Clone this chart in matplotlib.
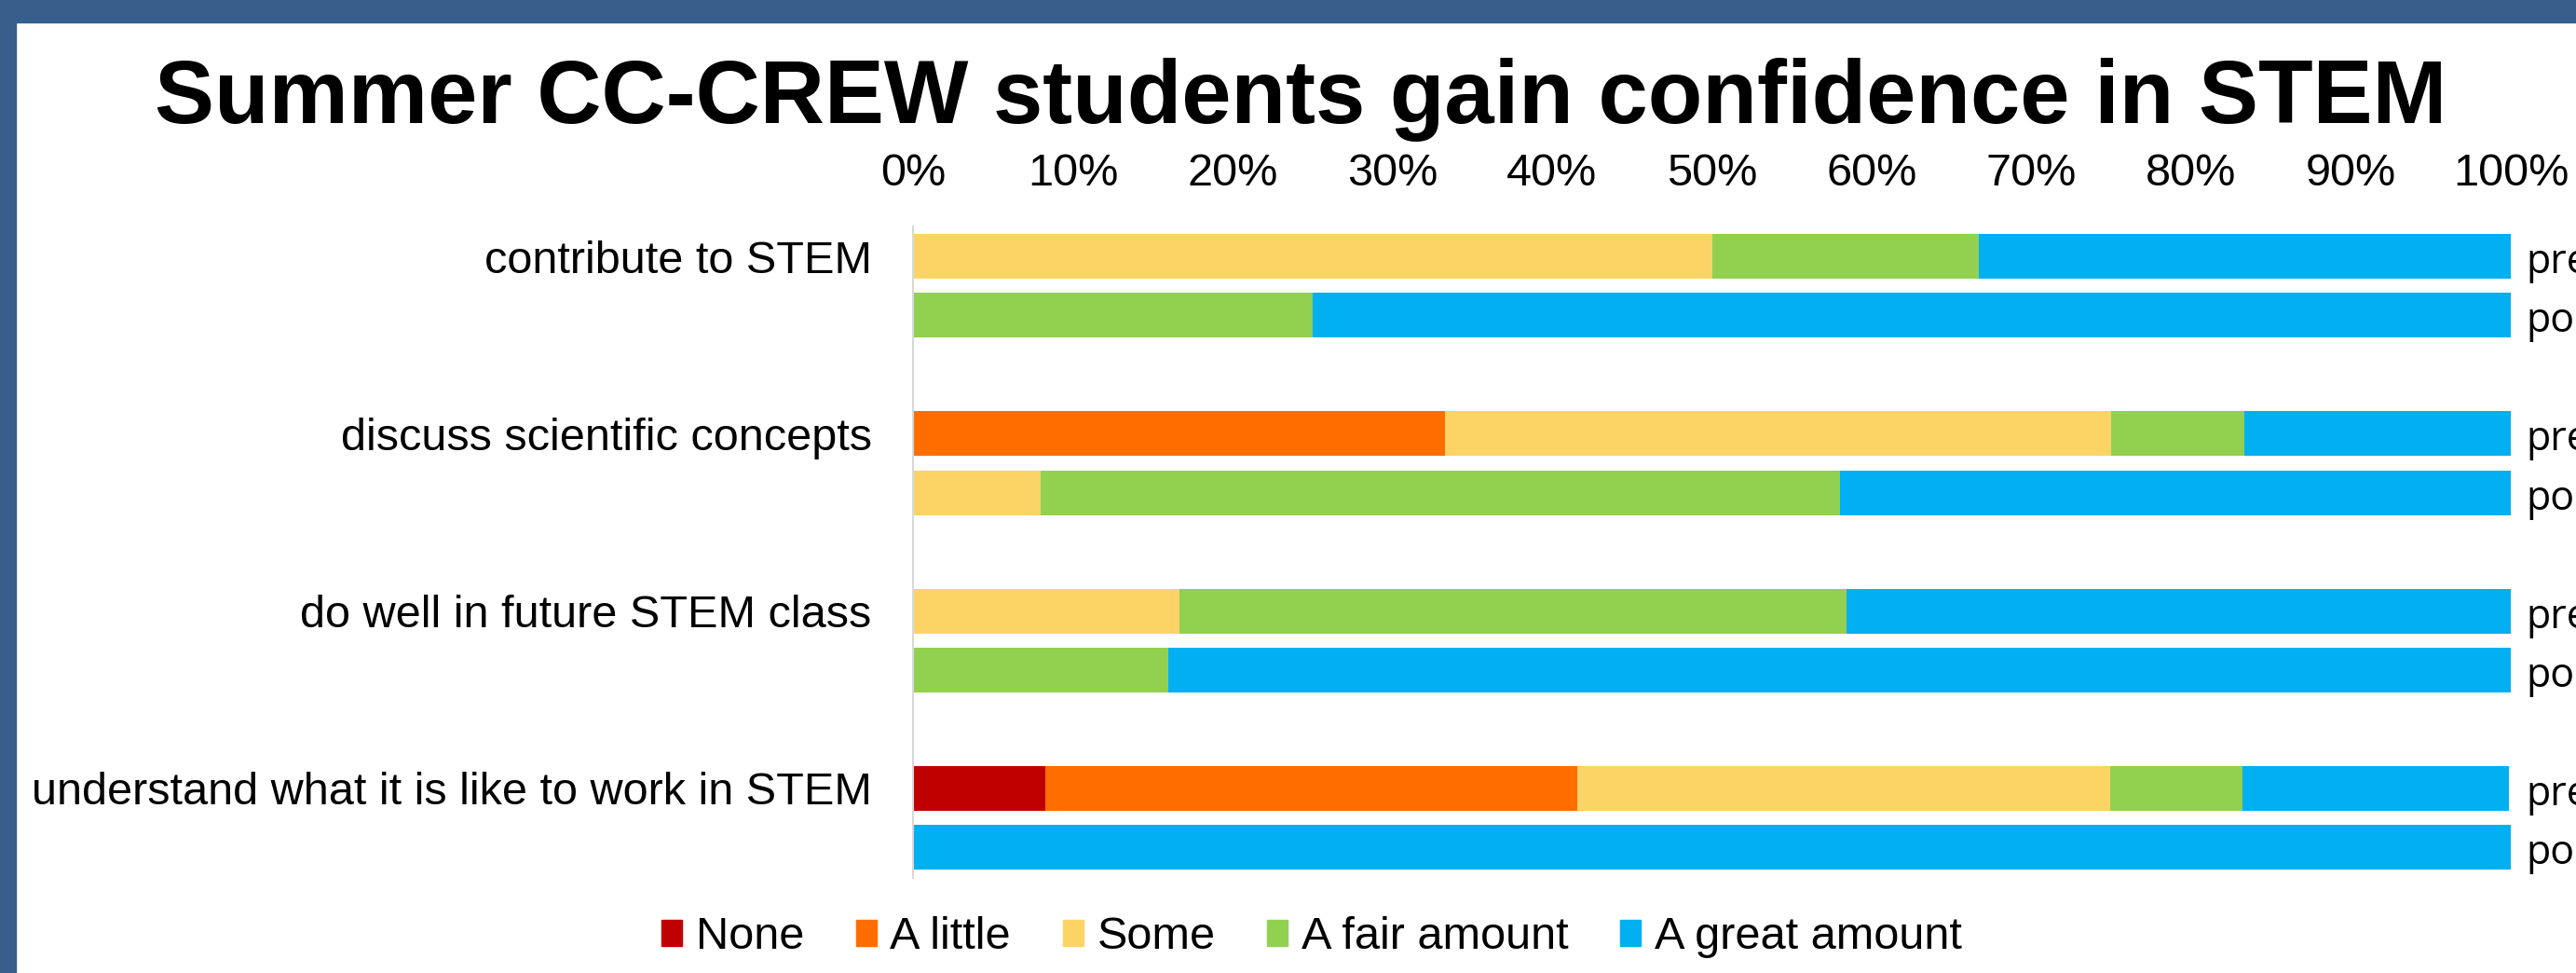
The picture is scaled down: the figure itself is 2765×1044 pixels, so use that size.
import matplotlib.pyplot as plt
import numpy as np
from matplotlib.patches import Patch, Rectangle

plt.rcParams['font.family'] = ['Liberation Sans', 'DejaVu Sans']

# datos / data (percent of students)
categories = ["contribute to STEM", "discuss scientific concepts",
              "do well in future STEM class", "understand what it is like to work in STEM"]
levels = ["None", "A little", "Some", "A fair amount", "A great amount"]
colors = ["#C00000", "#FF6D00", "#FCD466", "#92D050", "#00B0F0"]

pre_none = [0, 0, 0, 8.3]
pre_little = [0, 33.3, 0, 33.3]
pre_some = [50, 41.7, 16.7, 33.3]
pre_fair = [16.7, 8.3, 41.7, 8.3]
pre_great = [33.3, 16.7, 41.7, 16.7]

post_none = [0, 0, 0, 0]
post_little = [0, 0, 0, 0]
post_some = [0, 8, 0, 0]
post_fair = [25, 50, 16, 0]
post_great = [75, 42, 84, 100]

xticks = list(range(0, 101, 10))

pre = [pre_none, pre_little, pre_some, pre_fair, pre_great]
post = [post_none, post_little, post_some, post_fair, post_great]

fig = plt.figure(figsize=(27.65, 10.44), dpi=100)

# marco azul / blue frame
fig.patches.append(Rectangle((0, 1 - 24 / 1044), 1, 24 / 1044, transform=fig.transFigure,
                             color="#385E8B", zorder=0))
fig.patches.append(Rectangle((0, 0), 17 / 2765, 1, transform=fig.transFigure,
                             color="#385E8B", zorder=0))

ax = fig.add_axes([980 / 2765, 1 - 942 / 1044, 1715 / 2765, 699 / 1044])

g = np.arange(len(categories))
off = 0.1665
h = 0.252
left_pre = np.zeros(len(categories))
left_post = np.zeros(len(categories))
for k in range(len(levels)):
    ax.barh(g - off, pre[k], height=h, left=left_pre, color=colors[k], linewidth=0)
    ax.barh(g + off, post[k], height=h, left=left_post, color=colors[k], linewidth=0)
    left_pre += np.array(pre[k])
    left_post += np.array(post[k])

ax.set_xlim(0, 100)
ax.set_ylim(3.338, -0.335)

ax.xaxis.tick_top()
ax.set_xticks(xticks)
ax.set_xticklabels([str(t) + "%" for t in xticks], fontsize=35)
ax.tick_params(axis="x", length=0, pad=24.5)

ax.set_yticks(g - off)
ax.set_yticklabels(categories, fontsize=35)
ax.tick_params(axis="y", length=0, pad=32)

for s in ["top", "right", "bottom"]:
    ax.spines[s].set_visible(False)
ax.spines["left"].set_color("#D9D9D9")
ax.spines["left"].set_linewidth(1.5)

# etiquetas pre / post a la derecha (se cortan en el borde como en el original)
for i in g:
    ax.text(1.0093, i - off + 0.094, "pre", transform=ax.get_yaxis_transform(),
            fontsize=31, family="Open Sans", va="baseline", ha="left")
    ax.text(1.0093, i + off + 0.094, "post", transform=ax.get_yaxis_transform(),
            fontsize=31, family="Open Sans", va="baseline", ha="left")

fig.text(0.505, 1 - 132 / 1044, "Summer CC-CREW students gain confidence in STEM",
         fontsize=69, fontweight="bold", ha="center", va="baseline")

handles = [Patch(color=c, label=l) for c, l in zip(colors, levels)]
fig.legend(handles=handles, loc="center", bbox_to_anchor=(1408 / 2765, 1 - 1006 / 1044),
           ncol=5, frameon=False, fontsize=35, handlelength=0.45, handleheight=0.5,
           handletextpad=0.3, columnspacing=1.15, borderpad=0)

plt.savefig("out.png", dpi=100)
